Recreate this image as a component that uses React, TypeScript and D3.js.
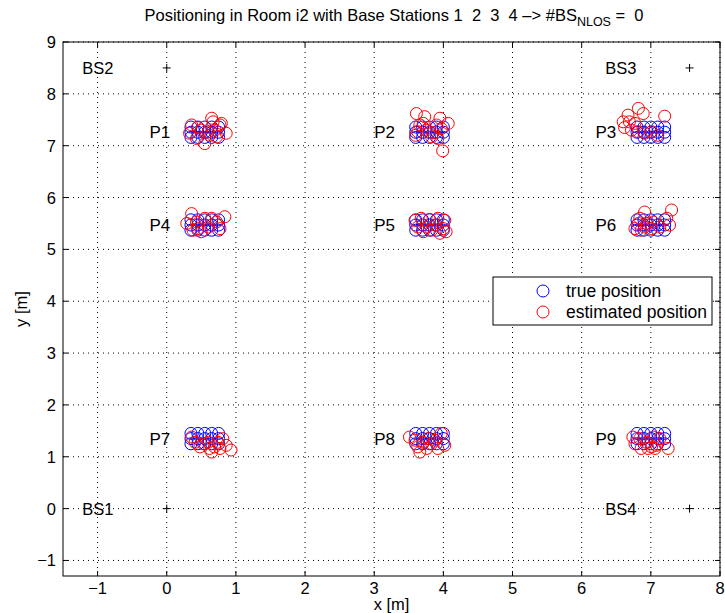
import React from "react";
import * as d3 from "d3";

const W = 725, H = 613;
const M = { left: 63, right: 720, top: 42, bottom: 576 };

const xTicks = [-1, 0, 1, 2, 3, 4, 5, 6, 7, 8];
const yTicks = [-1, 0, 1, 2, 3, 4, 5, 6, 7, 8, 9];

const stations = [
  { name: "BS1", x: 0, y: 0 },
  { name: "BS2", x: 0, y: 8.5 },
  { name: "BS3", x: 7.56, y: 8.5 },
  { name: "BS4", x: 7.56, y: 0 },
];

// true position grid for each point: columns and rows
const pointNames = ["P1", "P2", "P3", "P4", "P5", "P6", "P7", "P8", "P9"];
const pointCols = [
  [0.35, 0.45, 0.55, 0.65, 0.75],
  [3.6, 3.7, 3.8, 3.9, 4.0],
  [6.8, 6.9, 7.0, 7.1, 7.2],
  [0.35, 0.45, 0.55, 0.65, 0.75],
  [3.6, 3.7, 3.8, 3.9, 4.0],
  [6.8, 6.9, 7.0, 7.1, 7.2],
  [0.35, 0.45, 0.55, 0.65, 0.75],
  [3.6, 3.7, 3.8, 3.9, 4.0],
  [6.8, 6.9, 7.0, 7.1, 7.2],
];
const pointRows = [
  [7.16, 7.26, 7.36],
  [7.16, 7.26, 7.36],
  [7.16, 7.26, 7.36],
  [5.37, 5.47, 5.57],
  [5.37, 5.47, 5.57],
  [5.37, 5.47, 5.57],
  [1.25, 1.35, 1.45],
  [1.25, 1.35, 1.45],
  [1.25, 1.35, 1.45],
];

// estimated positions [x, y]
const est1 = [[0.36, 7.4], [0.65, 7.53], [0.77, 7.4], [0.86, 7.24], [0.55, 7.04], [0.33, 7.24], [0.43, 7.14], [0.6, 7.27], [0.72, 7.17], [0.79, 7.43], [0.67, 7.46], [0.5, 7.3], [0.62, 7.2], [0.45, 7.35], [0.7, 7.3]];
const est2 = [[3.61, 7.62], [3.73, 7.56], [3.66, 7.4], [3.95, 7.53], [4.07, 7.43], [3.99, 6.9], [3.83, 7.17], [3.92, 7.14], [3.63, 7.27], [3.97, 7.33], [3.75, 7.3], [3.71, 7.43], [3.85, 7.25], [3.6, 7.2], [3.9, 7.4]];
const est3 = [[6.82, 7.72], [6.89, 7.62], [6.67, 7.59], [6.6, 7.46], [7.2, 7.57], [6.62, 7.35], [6.72, 7.3], [6.82, 7.27], [6.91, 7.24], [7.1, 7.2], [7.01, 7.27], [6.77, 7.43], [6.69, 7.46]];
const est4 = [[0.36, 5.69], [0.84, 5.63], [0.29, 5.5], [0.45, 5.4], [0.5, 5.34], [0.65, 5.6], [0.77, 5.4], [0.6, 5.43], [0.43, 5.53], [0.72, 5.53], [0.55, 5.6], [0.38, 5.37]];
const est5 = [[3.59, 5.56], [3.68, 5.6], [3.8, 5.58], [3.92, 5.6], [4.02, 5.56], [3.63, 5.43], [3.76, 5.43], [3.88, 5.47], [4.0, 5.4], [4.04, 5.34], [3.71, 5.34], [3.83, 5.37], [3.95, 5.31]];
const est6 = [[6.91, 5.72], [7.3, 5.76], [6.84, 5.6], [6.77, 5.4], [6.86, 5.37], [6.94, 5.5], [7.03, 5.53], [7.23, 5.6], [7.27, 5.47], [7.13, 5.43], [6.91, 5.43], [6.82, 5.5], [7.01, 5.4]];
const est7 = [[0.41, 1.28], [0.53, 1.25], [0.62, 1.16], [0.74, 1.28], [0.81, 1.35], [0.86, 1.22], [0.77, 1.16], [0.65, 1.09], [0.6, 1.28], [0.48, 1.19], [0.69, 1.19], [0.36, 1.38], [0.93, 1.13]];
const est8 = [[3.51, 1.38], [3.63, 1.19], [3.66, 1.09], [3.76, 1.16], [3.83, 1.25], [3.92, 1.16], [3.97, 1.45], [4.02, 1.22], [3.71, 1.28], [3.88, 1.32], [3.78, 1.35], [3.59, 1.32]];
const est9 = [[6.74, 1.38], [6.77, 1.25], [6.84, 1.35], [6.94, 1.28], [7.01, 1.19], [7.08, 1.22], [7.25, 1.16], [7.13, 1.35], [6.86, 1.16], [6.96, 1.16], [7.06, 1.16], [7.04, 1.38]];
const estimated = [est1, est2, est3, est4, est5, est6, est7, est8, est9];

const FONT = "'Liberation Sans', Arial, Helvetica, sans-serif";
const FS = 16.5;

export default function App() {
  const x = d3.scaleLinear().domain([-1.5, 8]).range([M.left, M.right]);
  const y = d3.scaleLinear().domain([-1.3, 9]).range([M.bottom, M.top]);
  const R = 6;
  const tickLen = 5;

  const truePts: [number, number][] = [];
  pointCols.forEach((cols, i) => {
    pointRows[i].forEach((ry) => cols.forEach((cx) => truePts.push([cx, ry])));
  });
  const estPts: [number, number][] = estimated.flat() as [number, number][];
  const fmt = (t: number) => (t < 0 ? "\u2212" + Math.abs(t) : String(t));

  return (
    <svg width={W} height={H} style={{ position: "absolute", left: 0, top: 0, background: "#fff" }} fontFamily={FONT}>
      <rect x={0} y={0} width={W} height={H} fill="#fff" />
      {/* grid */}
      {xTicks.map((t) => (
        <line key={"gx" + t} x1={x(t)} x2={x(t)} y1={M.top} y2={M.bottom} stroke="#000" strokeWidth={1} strokeDasharray="1 4" />
      ))}
      {yTicks.map((t) => (
        <line key={"gy" + t} x1={M.left} x2={M.right} y1={y(t)} y2={y(t)} stroke="#000" strokeWidth={1} strokeDasharray="1 4" />
      ))}
      {/* ticks */}
      {xTicks.map((t) => (
        <g key={"tx" + t}>
          <line x1={x(t)} x2={x(t)} y1={M.bottom} y2={M.bottom - tickLen} stroke="#000" />
          <line x1={x(t)} x2={x(t)} y1={M.top} y2={M.top + tickLen} stroke="#000" />
          <text x={x(t)} y={M.bottom + 18} textAnchor="middle" fontSize={FS}>{fmt(t)}</text>
        </g>
      ))}
      {yTicks.map((t) => (
        <g key={"ty" + t}>
          <line x1={M.left} x2={M.left + tickLen} y1={y(t)} y2={y(t)} stroke="#000" />
          <line x1={M.right} x2={M.right - tickLen} y1={y(t)} y2={y(t)} stroke="#000" />
          <text x={M.left - 7} y={y(t) + 6} textAnchor="end" fontSize={FS}>{fmt(t)}</text>
        </g>
      ))}
      {/* frame */}
      <rect x={M.left} y={M.top} width={M.right - M.left} height={M.bottom - M.top} fill="none" stroke="#000" strokeWidth={1} />

      {/* base stations */}
      {stations.map((s) => (
        <g key={s.name}>
          <line x1={x(s.x) - 4} x2={x(s.x) + 4} y1={y(s.y)} y2={y(s.y)} stroke="#000" />
          <line x1={x(s.x)} x2={x(s.x)} y1={y(s.y) - 4} y2={y(s.y) + 4} stroke="#000" />
          <text x={x(s.x - 1.22)} y={y(s.y) + 6} fontSize={FS}>{s.name}</text>
        </g>
      ))}

      {/* point labels */}
      {pointNames.map((n, i) => (
        <text key={n} x={x(pointCols[i][0] - 0.6)} y={y(pointRows[i][1]) + 6} fontSize={17}>{n}</text>
      ))}

      {/* true positions */}
      {truePts.map((p, i) => (
        <circle key={"t" + i} cx={x(p[0])} cy={y(p[1])} r={R} fill="none" stroke="#0000ff" strokeWidth={1} />
      ))}
      {/* estimated */}
      {estPts.map((p, i) => (
        <circle key={"e" + i} cx={x(p[0])} cy={y(p[1])} r={R} fill="none" stroke="#ff0000" strokeWidth={1} />
      ))}

      {/* legend */}
      <g>
        <rect x={493} y={277} width={219} height={48} fill="#fff" stroke="#000" />
        <circle cx={543} cy={291} r={R} fill="none" stroke="#0000ff" />
        <text x={566} y={297} fontSize={17.5}>true position</text>
        <circle cx={543} cy={312} r={R} fill="none" stroke="#ff0000" />
        <text x={566} y={318} fontSize={17.5}>estimated position</text>
      </g>

      {/* title */}
      <text x={394} y={21} textAnchor="middle" fontSize={FS} style={{ whiteSpace: "pre" }}>
        {"Positioning in Room i2 with Base Stations 1  2  3  4 \u2013> #BS"}
        <tspan dy={5} fontSize={12.5}>NLOS</tspan>
        <tspan dy={-5}>{" =  0"}</tspan>
      </text>
      {/* axis labels */}
      <text x={(M.left + M.right) / 2} y={610} textAnchor="middle" fontSize={FS}>x [m]</text>
      <text transform={`translate(27, ${(M.top + M.bottom) / 2}) rotate(-90)`} textAnchor="middle" fontSize={FS}>y [m]</text>
    </svg>
  );
}
